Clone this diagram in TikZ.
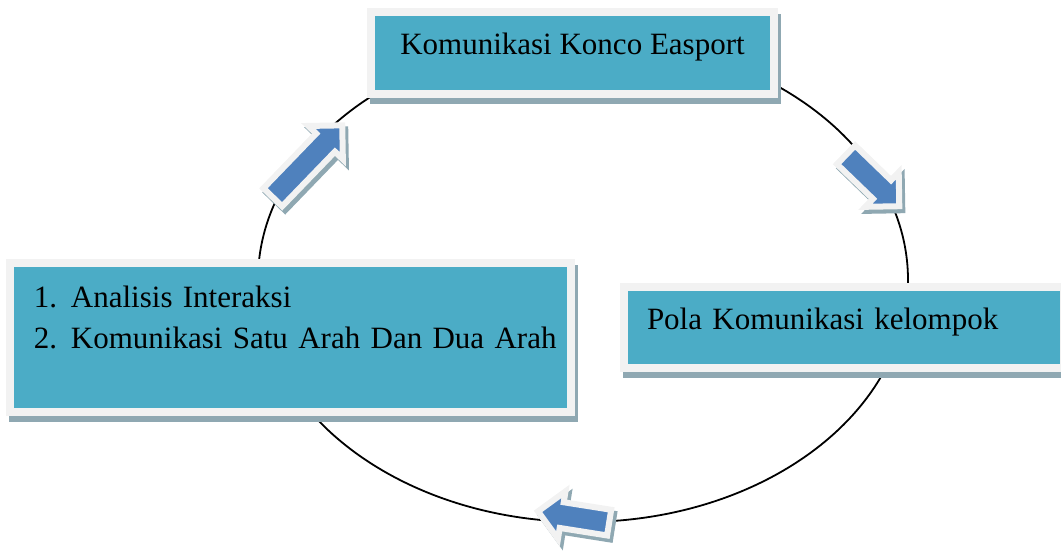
\documentclass[tikz,border=0pt]{standalone}
\usepackage{fontspec}
\setmainfont{Liberation Serif}
\usetikzlibrary{shapes.arrows,shadows}
\definecolor{panel}{HTML}{4BACC6}
\definecolor{rim}{HTML}{F2F2F2}
\definecolor{shade}{HTML}{8FA8B2}
\definecolor{flow}{HTML}{4F81BD}
\newcommand{\bigtext}{\fontsize{31pt}{41pt}\selectfont}
\newcommand{\li}[2]{\hspace*{24pt}\makebox[37pt][l]{#1}#2}
\tikzset{
  card/.style={rectangle, fill=panel, draw=rim, line width=8pt, inner xsep=0pt, inner ysep=0pt,
    anchor=north west, font=\bigtext,
    drop shadow={shadow xshift=3pt, shadow yshift=-6pt, opacity=1, fill=shade, draw=shade, line width=8pt}},
  turn/.style={single arrow, fill=flow, draw=rim, line width=6pt, inner sep=10pt,
    single arrow head extend=11pt, minimum width=0pt,
    drop shadow={shadow xshift=3pt, shadow yshift=-4pt, opacity=1, fill=shade, draw=shade, line width=6pt}},
}

\begin{document}
\begin{tikzpicture}[x=1pt, y=1pt]
\useasboundingbox (0,0) rectangle (1061,555);

% ================= the cycle =================
\coordinate (ring) at (583,275);
\draw[black, line width=1.8pt] (ring) ellipse [x radius=325pt, y radius=242pt];

% ================= the three boxes =================
\node[card, minimum width=403pt, text height=43pt, text depth=39pt] (top) at (367,547)
  {Komunikasi Konco Easport};
\node[card, text width=394pt, inner xsep=23pt, align=left, text height=43pt, text depth=38pt] (pola) at (620,272)
  {Pola Komunikasi kelompok};
\node[card, text width=561pt, align=left, text height=45pt, text depth=104pt] (list) at (6,296)
  {\li{1.}{Analisis Interaksi}\\ \li{2.}{Komunikasi Satu Arah Dan Dua Arah}};

% ================= arrows round the cycle =================
\foreach \n/\x/\y/\a/\l in {up/303/389/46/100pt, down/868/379/-44/74pt, back/580/37/171/72pt}
  \node[turn, rotate=\a, minimum height=\l] (arr-\n) at (\x,\y) {};

\end{tikzpicture}
\end{document}
